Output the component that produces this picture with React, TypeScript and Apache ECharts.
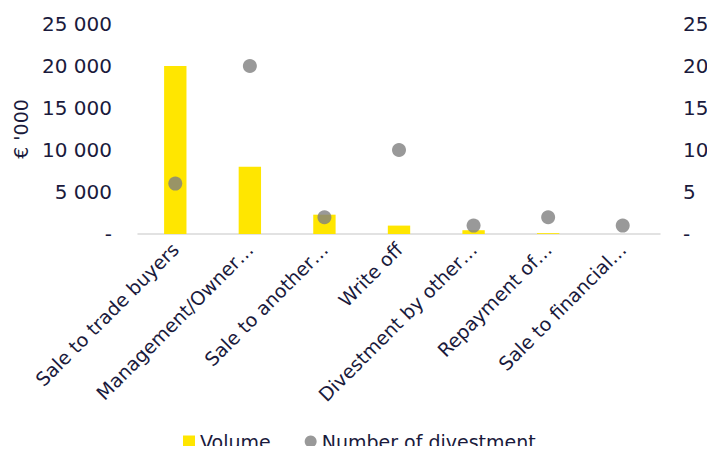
import React, { useEffect, useRef } from "react";
import * as echarts from "echarts";

const categories = [
  "Sale to trade buyers",
  "Management/Owner…",
  "Sale to another…",
  "Write off",
  "Divestment by other…",
  "Repayment of…",
  "Sale to financial…",
];
const volume = [20000, 8000, 2300, 1000, 450, 100, 0];
const divestments = [6, 20, 2, 10, 1, 2, 1];

const TEXT = "#1a1a3c";
const FONT = "DejaVu Sans";

function fmtThousands(v: number) {
  if (v === 0) return "-";
  return String(v).replace(/\B(?=(\d{3})+(?!\d))/g, " ");
}

export default function App() {
  const ref = useRef<HTMLDivElement>(null);
  useEffect(() => {
    const chart = echarts.init(ref.current!, null, { renderer: "svg" });
    chart.setOption({
      animation: false,
      textStyle: { fontFamily: FONT, color: TEXT },
      grid: { left: 138, right: 55, top: 24, bottom: 220, containLabel: false },
      legend: {
        top: 427,
        left: 178,
        itemGap: 34,
        itemWidth: 12,
        itemHeight: 12,
        textStyle: { fontFamily: FONT, fontSize: 19, color: TEXT },
        data: [
          { name: "Volume", icon: "rect" },
          { name: "Number of divestment", icon: "circle" },
        ],
      },
      xAxis: {
        type: "category",
        data: categories,
        axisLine: { lineStyle: { color: "#d9d9d9", width: 1.5 } },
        axisTick: { show: false },
        axisLabel: {
          rotate: 45,
          interval: 0,
          fontSize: 19,
          color: TEXT,
          fontFamily: FONT,
          margin: 12,
        },
      },
      yAxis: [
        {
          type: "value",
          min: 0,
          max: 25000,
          interval: 5000,
          name: "€ '000",
          nameLocation: "middle",
          nameGap: 108,
          nameRotate: 90,
          nameTextStyle: { fontSize: 19, color: TEXT, fontFamily: FONT },
          splitLine: { show: false },
          axisLine: { show: false },
          axisTick: { show: false },
          axisLabel: {
            fontSize: 20,
            color: TEXT,
            fontFamily: FONT,
            margin: 26,
            formatter: (v: number) => fmtThousands(v),
          },
        },
        {
          type: "value",
          min: 0,
          max: 25,
          interval: 5,
          splitLine: { show: false },
          axisLine: { show: false },
          axisTick: { show: false },
          axisLabel: {
            fontSize: 20,
            color: TEXT,
            fontFamily: FONT,
            margin: 23,
            formatter: (v: number) => (v === 0 ? "-" : String(v)),
          },
        },
      ],
      series: [
        {
          name: "Volume",
          type: "bar",
          data: volume,
          barWidth: "30%",
          itemStyle: { color: "#ffe600" },
          yAxisIndex: 0,
        },
        {
          name: "Number of divestment",
          type: "scatter",
          data: divestments,
          yAxisIndex: 1,
          symbol: "circle",
          symbolSize: 14,
          itemStyle: { color: "#808080" },
        },
      ],
    });
    return () => chart.dispose();
  }, []);
  return <div ref={ref} style={{ width: 715, height: 454, margin: -8 }} />;
}
